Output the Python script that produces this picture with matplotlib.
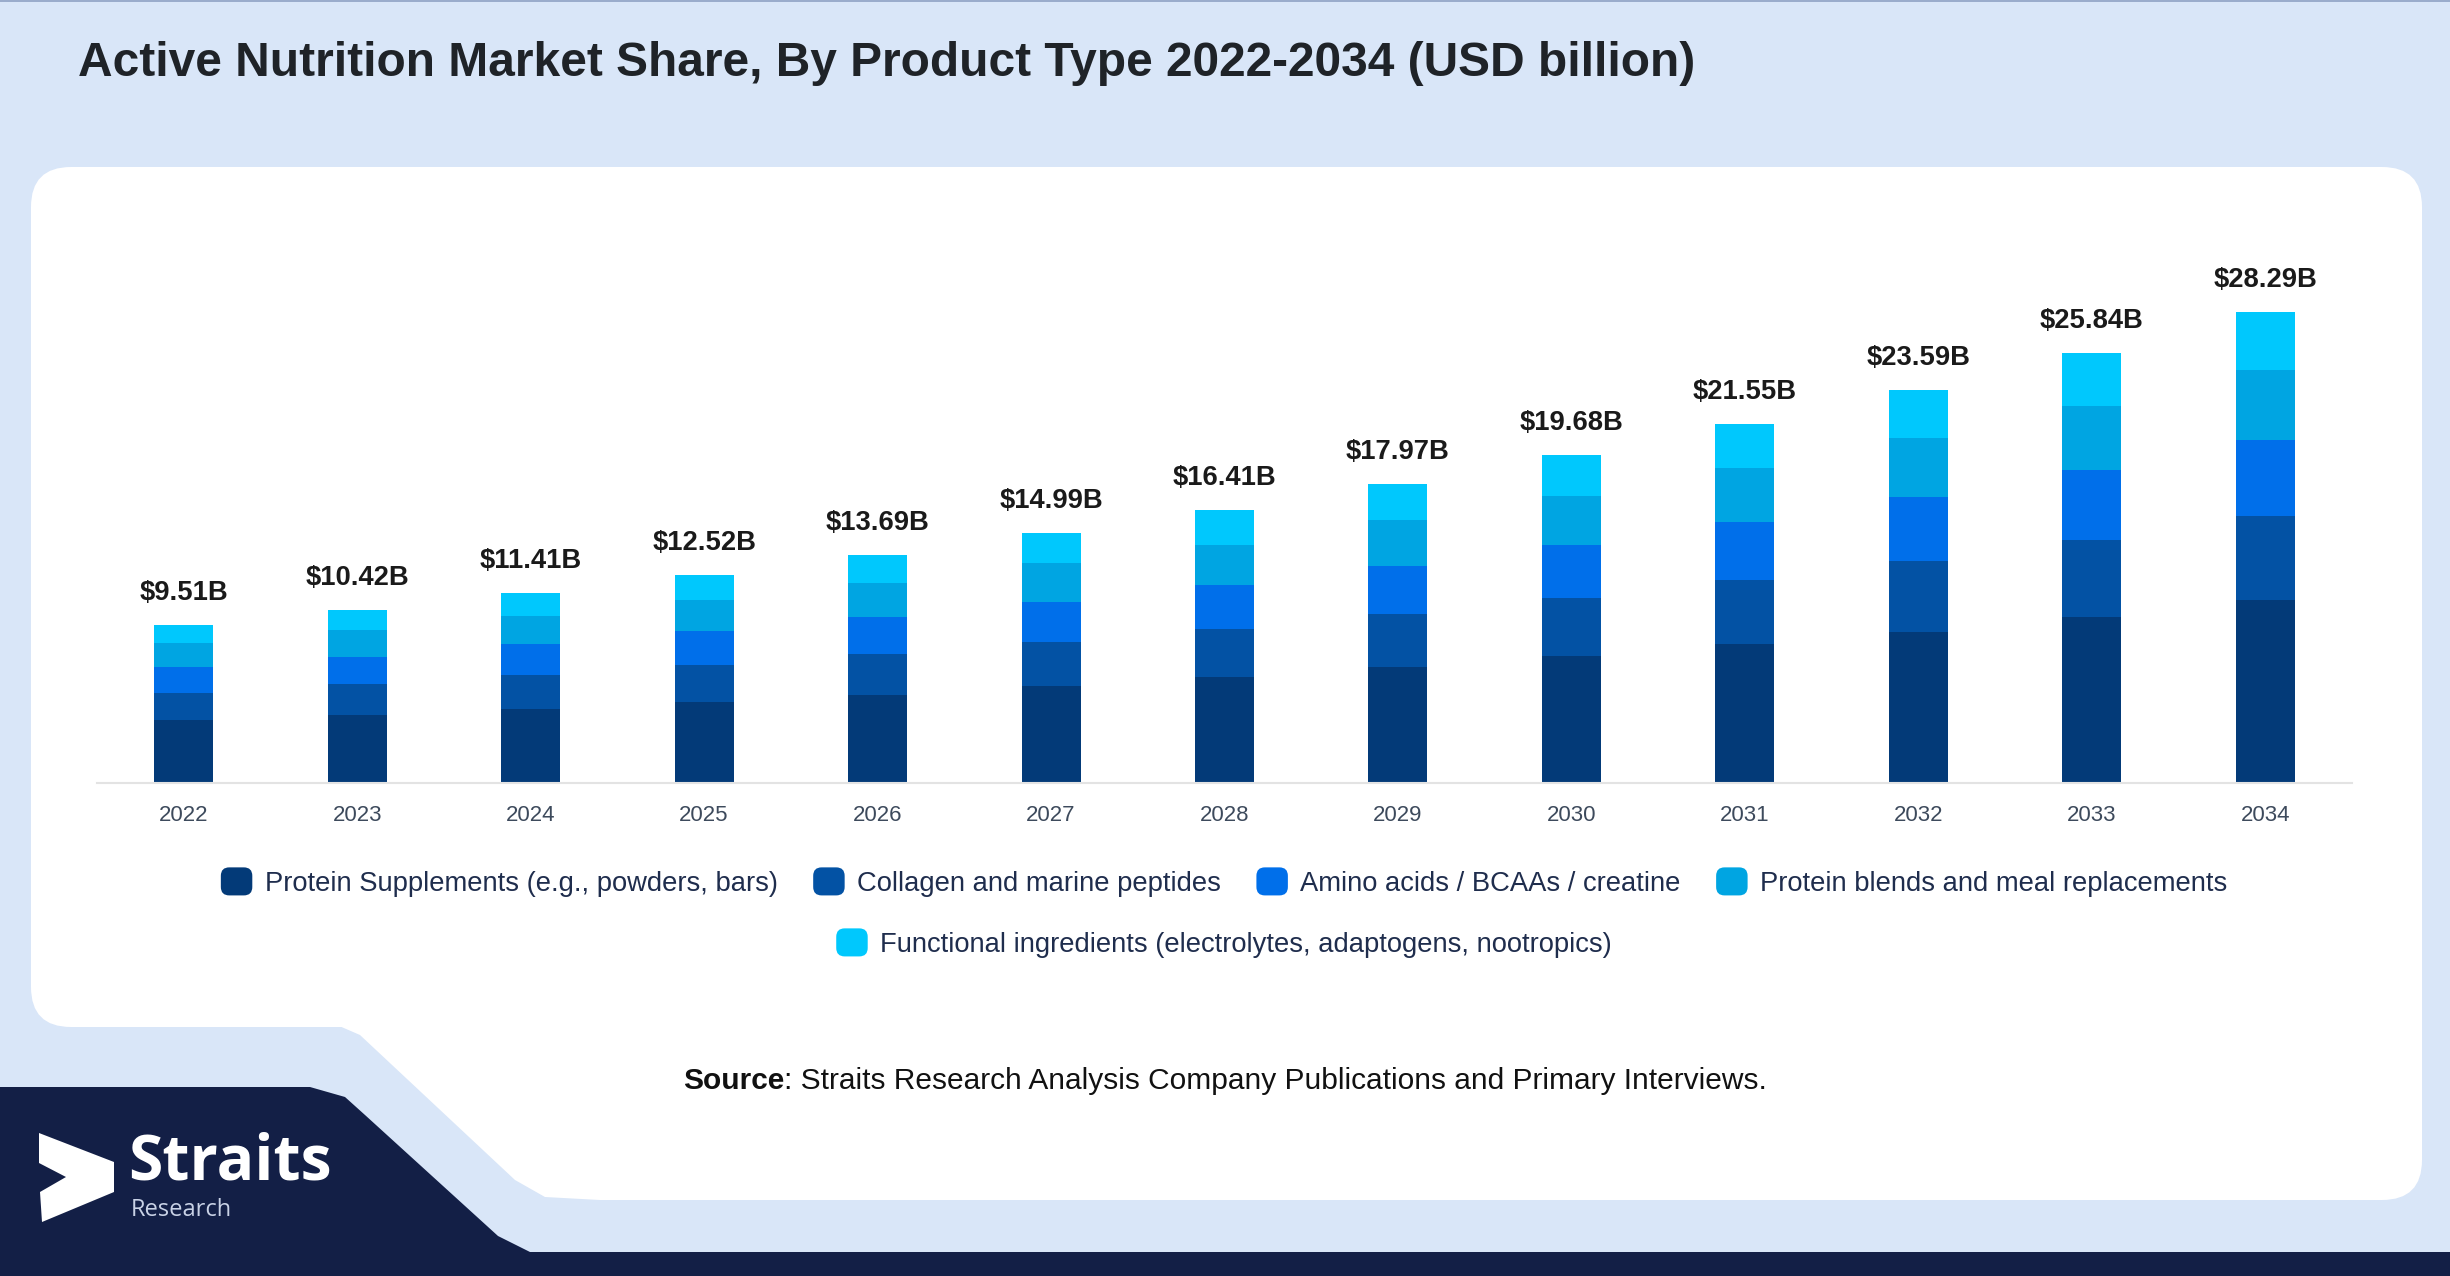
import matplotlib
matplotlib.use("Agg")
import matplotlib.pyplot as plt
import matplotlib.transforms as mtransforms
from matplotlib.patches import FancyBboxPatch, Polygon, Rectangle
from matplotlib.legend_handler import HandlerPatch
import numpy as np

# data (USD billion)
years = ['2022', '2023', '2024', '2025', '2026', '2027', '2028',
         '2029', '2030', '2031', '2032', '2033', '2034']
totals = [9.51, 10.42, 11.41, 12.52, 13.69, 14.99, 16.41,
          17.97, 19.68, 21.55, 23.59, 25.84, 28.29]
protein = [3.76, 4.08, 4.44, 4.88, 5.31, 5.82, 6.34, 6.95, 7.61, 8.34, 9.07, 9.99, 10.98]
collagen = [1.66, 1.85, 2.03, 2.19, 2.41, 2.65, 2.90, 3.21, 3.50, 3.84, 4.29, 4.59, 5.03]
amino = [1.54, 1.65, 1.85, 2.05, 2.24, 2.43, 2.66, 2.90, 3.16, 3.49, 3.81, 4.20, 4.59]
blends = [1.44, 1.59, 1.69, 1.85, 2.06, 2.29, 2.40, 2.72, 2.94, 3.24, 3.56, 3.88, 4.20]
functional = [1.11, 1.25, 1.40, 1.55, 1.67, 1.80, 2.11, 2.19, 2.47, 2.64, 2.86, 3.18, 3.49]

series_names = ['Protein Supplements (e.g., powders, bars)',
                'Collagen and marine peptides',
                'Amino acids / BCAAs / creatine',
                'Protein blends and meal replacements',
                'Functional ingredients (electrolytes, adaptogens, nootropics)']
series_colors = ['#033a78', '#0352a4', '#006fea', '#00a5e2', '#00c8fd']

W, H = 2450, 1276
plt.rcParams['font.family'] = ['Liberation Sans', 'DejaVu Sans']

fig = plt.figure(figsize=(W / 100, H / 100), dpi=100)
fig.patch.set_facecolor('#d9e6f8')

# pixel coords measured from the top-left corner
px = mtransforms.Affine2D().scale(1 / W, -1 / H).translate(0, 1) + fig.transFigure

# white card
fig.add_artist(FancyBboxPatch((31, 167), 2391, 860, boxstyle='round,pad=0,rounding_size=40',
                              fc='white', ec='none', transform=px, zorder=-2))
fig.add_artist(FancyBboxPatch((600, 700), 1822, 500, boxstyle='round,pad=0,rounding_size=40',
                              fc='white', ec='none', transform=px, zorder=-2))
fig.add_artist(Polygon([(300, 990), (330, 1022), (360, 1035), (515, 1180), (545, 1197),
                        (600, 1200), (700, 1200), (700, 990)],
                       closed=True, fc='white', ec='none', transform=px, zorder=-2))

# navy footer shape
fig.add_artist(Polygon([(0, 1087), (310, 1087), (345, 1097), (365, 1115), (498, 1236),
                        (530, 1252), (W, 1252), (W, H), (0, H)],
                       closed=True, fc='#131f46', ec='none', transform=px, zorder=-1))
fig.add_artist(Rectangle((0, 0), W, 2, fc='#9aaccc', ec='none', transform=px, zorder=-1))

# logo
fig.add_artist(Polygon([(39, 1133), (114, 1162), (114, 1192), (42, 1222), (40, 1192),
                        (66, 1177), (39, 1163)],
                       closed=True, fc='white', ec='none', transform=px, zorder=2))
fig.text(128 / W, 1 - 1180 / H, 'Straits', color='white', fontsize=45, weight='bold',
         family=['Open Sans', 'DejaVu Sans'], va='baseline', ha='left')
fig.text(131 / W, 1 - 1198 / H, 'Research', color='#c9d2e6', fontsize=17,
         family=['Open Sans', 'DejaVu Sans'], va='top', ha='left')

# title
fig.text(78 / W, 1 - 64 / H,
         'Active Nutrition Market Share, By Product Type 2022-2034 (USD billion)',
         fontsize=34.5, weight='bold', color='#1f2328', va='center', ha='left')

# chart
scale = 16.65  # px per billion
ax = fig.add_axes([97 / W, 1 - 783 / H, 2255 / W, 600 / H])
ax.set_facecolor('none')
x = np.arange(len(years))
bottom = np.zeros(len(years))
for vals, name, col in zip([protein, collagen, amino, blends, functional],
                           series_names, series_colors):
    ax.bar(x, vals, width=0.34, bottom=bottom, color=col, label=name, zorder=2)
    bottom += np.array(vals)

for i, t in enumerate(totals):
    ax.annotate(f'${t:.2f}B', (i, t), xytext=(0, 23), textcoords='offset points',
                ha='center', va='center', fontsize=19.7, weight='bold', color='#1a1a1a')

ax.set_xlim(-0.5, 12.5)
ax.set_ylim(0, 600 / scale)
ax.set_xticks(x)
ax.set_xticklabels(years, fontsize=16, color='#3d4a5c')
ax.tick_params(axis='x', length=0, pad=16)
ax.set_yticks([])
for s in ['top', 'right', 'left']:
    ax.spines[s].set_visible(False)
ax.spines['bottom'].set_color('#e3e3e3')
ax.spines['bottom'].set_linewidth(1.5)


class RoundBox(HandlerPatch):
    def create_artists(self, legend, orig, xd, yd, w, h, fs, trans):
        p = FancyBboxPatch((-xd, -yd), w, h,
                           boxstyle='round,pad=0,rounding_size=%f' % (0.3 * h),
                           fc=orig.get_facecolor(), ec='none', transform=trans)
        return [p]


handles = [Rectangle((0, 0), 1, 1, fc=c) for c in series_colors]
leg_kw = dict(frameon=False, fontsize=19.7, handlelength=1.15, handleheight=1.2,
              handletextpad=0.45, columnspacing=1.3, labelcolor='#1f2d4d',
              handler_map={Rectangle: RoundBox()}, borderaxespad=0, borderpad=0)
leg1 = fig.legend(handles[:4], series_names[:4], ncol=4, loc='center',
                  bbox_to_anchor=(1224 / W, 1 - 882 / H), **leg_kw)
leg2 = fig.legend(handles[4:], series_names[4:], ncol=1, loc='center',
                  bbox_to_anchor=(1224 / W, 1 - 943 / H), **leg_kw)

# source line
src = fig.text(683 / W, 1 - 1081 / H, 'Source', fontsize=21.5, weight='bold',
               color='#111111', ha='left', va='center')
fig.texts.append(matplotlib.text.Annotation(
    ': Straits Research Analysis Company Publications and Primary Interviews.',
    xy=(1, 0), xycoords=src, fontsize=21.5, color='#111111', ha='left', va='bottom'))
fig.texts[-1].set_figure(fig)

fig.savefig('out.png', dpi=100, facecolor=fig.get_facecolor())
